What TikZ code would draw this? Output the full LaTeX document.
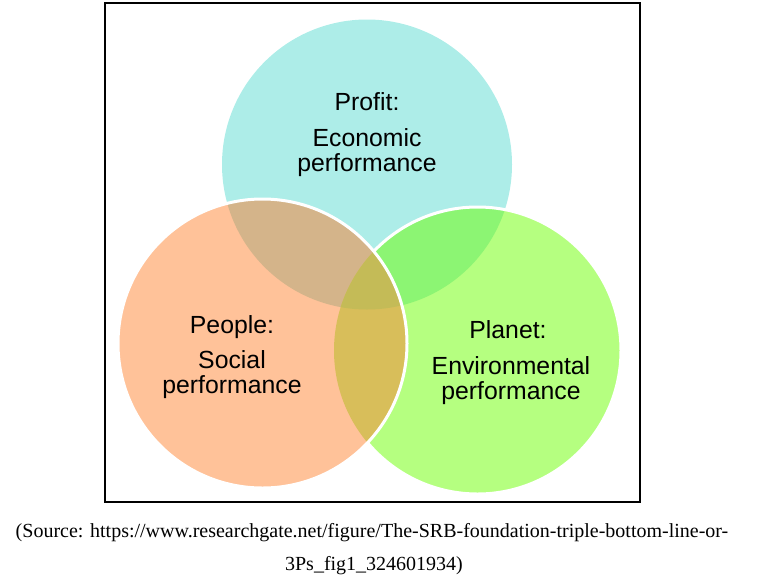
\documentclass[tikz,border=0pt]{standalone}
\usepackage{fontspec}
\setmainfont{Liberation Sans}
\newfontfamily\srcfont{Liberation Serif}
\definecolor{profitfill}{HTML}{ADEDE8}
\definecolor{peoplefill}{HTML}{FFC299}
\definecolor{planetfill}{HTML}{B5FF80}
\definecolor{pfplfill}{HTML}{8CF573}
\definecolor{pfppfill}{HTML}{D4B48A}
\definecolor{ppplfill}{HTML}{D8BE5A}
\definecolor{allfill}{HTML}{C4BB57}

\begin{document}
\begin{tikzpicture}[x=1pt,y=-1pt,
    lbl/.style={font=\fontsize{24.8}{25}\selectfont, align=center, anchor=base, inner sep=0pt},
    rim/.style={draw=white, line width=3pt},
    src/.style={font=\srcfont\fontsize{20}{22}\selectfont, anchor=base, inner sep=0pt}]
\useasboundingbox (0,0) rectangle (760,582);
\coordinate (profit) at (367,164.5);
\coordinate (people) at (262.5,343.5);
\coordinate (planet) at (477.5,350.5);
% circles, back to front
\fill[profitfill] (profit) circle[radius=145];
\fill[planetfill] (planet) circle[radius=143.5];
\begin{scope}
  \clip (profit) circle[radius=145];
  \fill[pfplfill] (planet) circle[radius=143.5];
\end{scope}
\path[rim] (planet) circle[radius=143.5];
\fill[peoplefill] (people) circle[radius=144.5];
\begin{scope}
  \clip (people) circle[radius=144.5];
  \begin{scope}
    \clip (profit) circle[radius=145];
    \fill[pfppfill] (profit) circle[radius=145];
  \end{scope}
  \begin{scope}
    \clip (planet) circle[radius=143.5];
    \fill[ppplfill] (planet) circle[radius=143.5];
    \clip (profit) circle[radius=145];
    \fill[allfill] (profit) circle[radius=145];
  \end{scope}
\end{scope}
\path[rim] (people) circle[radius=144.5];
% labels (base = last line)
\node[lbl] (profithead) at (367,110) {Profit:};
\node[lbl] (profittext) at (367,171) {Economic\\performance};
\node[lbl] (peoplehead) at (232,333) {People:};
\node[lbl] (peopletext) at (232,393) {Social\\performance};
\node[lbl] (planethead) at (508,338) {Planet:};
\node[lbl] (planettext) at (511,399) {Environmental\\performance};
% frame and source
\draw[line width=2pt] (105,2.5) rectangle (639.5,502);
\node[src] (srcone) at (372,537) {(Source: https://www.researchgate.net/figure/The-SRB-foundation-triple-bottom-line-or-};
\node[src] (srctwo) at (374,570) {3Ps\_fig1\_324601934)};
\end{tikzpicture}
\end{document}
